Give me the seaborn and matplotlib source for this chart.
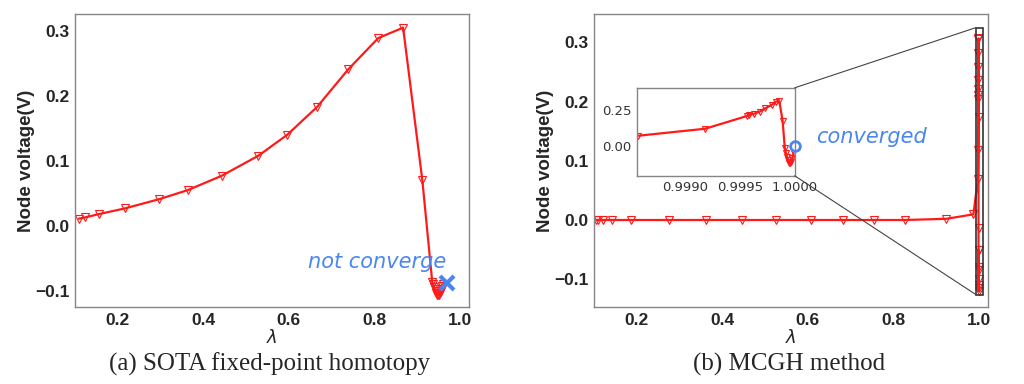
import matplotlib
matplotlib.use('Agg')
import matplotlib.pyplot as plt
from matplotlib.patches import ConnectionPatch
import seaborn as sns

# ── Data ──────────────────────────────────────
sota_lam = [0.109, 0.124, 0.156, 0.218, 0.297, 0.364, 0.443, 0.529, 0.596,
            0.666, 0.739, 0.809, 0.867, 0.912, 0.935, 0.937, 0.939, 0.941,
            0.943, 0.945, 0.947, 0.949, 0.951, 0.953, 0.955, 0.957, 0.959, 0.961]
sota_v = [0.011, 0.013, 0.018, 0.027, 0.041, 0.055, 0.077, 0.108, 0.140,
          0.183, 0.241, 0.289, 0.305, 0.070, -0.086, -0.090, -0.094, -0.098,
          -0.101, -0.104, -0.106, -0.107, -0.106, -0.104, -0.101, -0.097, -0.093, -0.089]
sota_fail_lam = [0.970]
sota_fail_v = [-0.088]

mcgh_lam = [0.106, 0.110, 0.121, 0.143, 0.188, 0.277, 0.363, 0.447, 0.527,
            0.607, 0.682, 0.756, 0.827, 0.925, 0.988,
            0.99857, 0.99918, 0.99956, 0.99958, 0.99963, 0.99968, 0.99973,
            0.99979, 0.99983, 0.99986, 0.99989, 0.99991,
            0.99992, 0.99993, 0.99994, 0.99995, 0.99996, 0.99997, 0.99998, 0.99999]
mcgh_v = [0.0, 0.0, 0.0, 0.0, 0.0, 0.0, 0.0, 0.0, 0.0,
          0.0, 0.0, 0.0, 0.0, 0.002, 0.0096,
          0.070, 0.118, 0.205, 0.212, 0.222, 0.236, 0.259,
          0.282, 0.305, 0.307, 0.174, -0.014,
          -0.050, -0.080, -0.100, -0.115, -0.120, -0.110, -0.085, -0.050]
mcgh_end_lam = [1.0]
mcgh_end_v = [0.0]

RED = '#ff1a1a'
BLUE = '#4a86f0'
GRAY = '#858585'
INK = '#262626'

# ── Style ─────────────────────────────────────
sns.set_style('white')
plt.rcParams['font.family'] = ['Liberation Sans', 'DejaVu Sans']
plt.rcParams['mathtext.fontset'] = 'dejavusans'

fig = plt.figure(figsize=(10.24, 3.84), dpi=100)
ax1 = fig.add_axes([0.0732, 0.2005, 0.3848, 0.763])
ax2 = fig.add_axes([0.5798, 0.2005, 0.385, 0.763])

line_kw = dict(sort=False, estimator=None, color=RED, linewidth=1.6,
               marker='v', markersize=6, markerfacecolor='none',
               markeredgecolor=RED, markeredgewidth=0.8)


def style_main(ax, yticks, xlim, ylim):
    ax.set_xlim(*xlim)
    ax.set_ylim(*ylim)
    ax.set_xticks([0.2, 0.4, 0.6, 0.8, 1.0])
    ax.set_yticks(yticks)
    ax.set_xticklabels([f'{t:.1f}' for t in [0.2, 0.4, 0.6, 0.8, 1.0]])
    ax.set_yticklabels([f'{t:.1f}'.replace('-', '\u2212') for t in yticks])
    for s in ax.spines.values():
        s.set_color(GRAY)
        s.set_linewidth(1.0)
    ax.tick_params(direction='in', length=2.5, width=0.8, color=GRAY,
                   labelsize=12.5, labelcolor=INK, pad=4)
    for lab in ax.get_xticklabels() + ax.get_yticklabels():
        lab.set_fontweight('bold')
    ax.set_ylabel('Node voltage(V)', fontsize=13.5, fontweight='bold',
                  color=INK, labelpad=0)
    ax.set_xlabel(r'$\lambda$', fontsize=13, color=INK, labelpad=1)


# ── (a) SOTA fixed-point homotopy ─────────────
sns.lineplot(x=sota_lam, y=sota_v, ax=ax1, **line_kw)
ax1.plot(sota_fail_lam, sota_fail_v, linestyle='none', marker='x',
         color=BLUE, markersize=10, markeredgewidth=3, zorder=5)
ax1.text(0.969, -0.0555, 'not converge', color=BLUE, style='italic',
         family='DejaVu Sans', fontsize=15, ha='right', va='center')
style_main(ax1, [-0.1, 0.0, 0.1, 0.2, 0.3], (0.1, 1.021), (-0.125, 0.326))

# ── (b) MCGH method ───────────────────────────
sns.lineplot(x=mcgh_lam, y=mcgh_v, ax=ax2, **line_kw)
ax2.text(0.62, 0.141, 'converged', color=BLUE, style='italic',
         family='DejaVu Sans', fontsize=15, ha='left', va='center')
style_main(ax2, [-0.1, 0.0, 0.1, 0.2, 0.3], (0.1, 1.022), (-0.147, 0.348))

# inset zoom
axins = ax2.inset_axes([0.1106, 0.448, 0.399, 0.300])
sns.lineplot(x=mcgh_lam, y=mcgh_v, ax=axins, **dict(line_kw, markersize=5))
axins.plot(mcgh_end_lam, mcgh_end_v, linestyle='none', marker='o',
           markerfacecolor='none', markeredgecolor=BLUE, markersize=7,
           markeredgewidth=2, clip_on=False, zorder=6)
axins.set_xlim(0.99856, 1.0)
axins.set_ylim(-0.206, 0.40)
axins.set_xticks([0.9990, 0.9995, 1.0000])
axins.set_xticklabels(['0.9990', '0.9995', '1.0000'])
axins.set_yticks([0.0, 0.25])
axins.set_yticklabels(['0.00', '0.25'])
axins.set_xlabel('')
axins.set_ylabel('')
for s in axins.spines.values():
    s.set_color(GRAY)
    s.set_linewidth(1.0)
axins.tick_params(direction='in', length=2.5, width=0.8, color=GRAY,
                  labelsize=9.5, labelcolor='#333333', pad=4)
for lab in axins.get_xticklabels() + axins.get_yticklabels():
    lab.set_family('DejaVu Sans')

rect = (0.9938, -0.126, 0.0172, 0.451)
ax2.indicate_inset(rect, edgecolor='#333333', alpha=1, linewidth=1.2)
for corner_ins, corner_rect in [((1, 1), (rect[0], rect[1] + rect[3])),
                                ((1, 0), (rect[0], rect[1]))]:
    con = ConnectionPatch(xyA=corner_ins, coordsA=axins.transAxes,
                          xyB=corner_rect, coordsB=ax2.transData,
                          color='#444444', linewidth=0.8)
    fig.add_artist(con)

# ── captions ──────────────────────────────────
fig.text(270 / 1024, 1 - 364 / 384, '(a) SOTA fixed-point homotopy',
         family='Liberation Serif', fontsize=18, ha='center', va='center')
fig.text(789 / 1024, 1 - 364 / 384, '(b) MCGH method',
         family='Liberation Serif', fontsize=18, ha='center', va='center')

plt.savefig('out.png', dpi=100)
plt.close()
